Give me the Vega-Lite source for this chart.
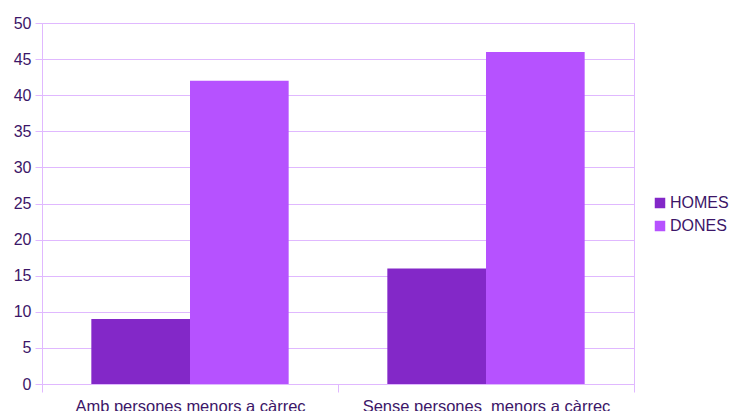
{
  "$schema": "https://vega.github.io/schema/vega-lite/v6.json",
  "width": 592,
  "height": 361,
  "autosize": {"type": "none"},
  "padding": {"left": 42, "top": 23, "right": 96, "bottom": 27},
  "background": "white",
  "config": {
    "font": "Liberation Sans",
    "view": {"stroke": "#e0b8ff", "strokeWidth": 1},
    "axis": {"labelFont": "Liberation Sans", "labelFontSize": 16, "labelColor": "#3c1668", "domainColor": "#e0b8ff", "tickColor": "#e0b8ff", "gridColor": "#e0b8ff", "title": null, "labelLimit": 0}
  },
  "data": {
    "values": [
      {"cat": "Amb persones menors a càrrec", "sexe": "HOMES", "valor": 9},
      {"cat": "Amb persones menors a càrrec", "sexe": "DONES", "valor": 42},
      {"cat": "Sense persones\u00a0 menors a càrrec", "sexe": "HOMES", "valor": 16},
      {"cat": "Sense persones\u00a0 menors a càrrec", "sexe": "DONES", "valor": 46}
    ]
  },
  "mark": {"type": "bar"},
  "encoding": {
    "x": {
      "field": "cat", "type": "nominal", "sort": null,
      "scale": {"paddingInner": 0, "paddingOuter": 0},
      "axis": {"labelAngle": 0, "tickBand": "extent", "tickSize": 8, "labelPadding": 6, "labelFontSize": 16.5, "grid": false}
    },
    "xOffset": {"field": "sexe", "type": "nominal", "sort": ["HOMES", "DONES"], "scale": {"paddingInner": 0, "paddingOuter": 0.5}},
    "y": {
      "field": "valor", "type": "quantitative",
      "scale": {"domain": [0, 50], "nice": false},
      "axis": {"values": [0,5,10,15,20,25,30,35,40,45,50], "tickSize": 7, "labelPadding": 4, "grid": true}
    },
    "color": {
      "field": "sexe", "type": "nominal", "sort": ["HOMES", "DONES"],
      "scale": {"domain": ["HOMES", "DONES"], "range": ["#8328c8", "#b652ff"]},
      "legend": {"title": null, "orient": "none", "legendX": 610, "legendY": 172, "symbolType": "square", "symbolSize": 110, "symbolStrokeWidth": 0, "labelFont": "Liberation Sans", "labelFontSize": 16, "labelColor": "#3c1668", "rowPadding": 7, "labelOffset": 2}
    }
  }
}
